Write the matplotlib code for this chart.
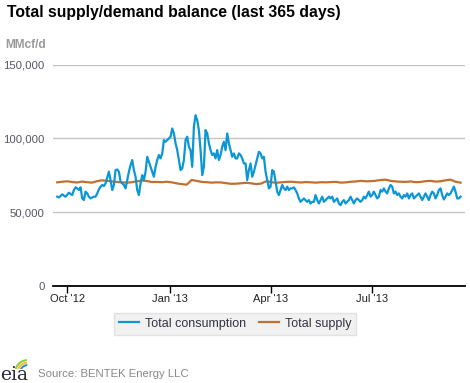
import matplotlib
matplotlib.use("Agg")
import matplotlib.pyplot as plt
from matplotlib.patches import Arc
import numpy as np
import pandas as pd

# Данные (тыс. MMcf/d)
start_date = "2012-09-22"
end_date = "2013-09-18"

consumption_k = [
    60.5, 60.0, 60.9, 62.1, 61.2, 60.5, 61.8, 63.2, 62.3, 61.6, 65.0, 66.8, 66.1, 65.0, 66.8,
    59.3, 58.2, 63.9, 62.7, 60.5, 59.3, 60.0, 60.5, 60.5, 62.7, 65.5, 67.3, 68.4, 67.7, 69.5,
    73.5, 77.4, 71.7, 65.0, 68.4, 78.5, 78.9, 77.4,
    70.6, 69.5, 68.4, 66.1, 71.7, 77.4, 81.9, 85.3, 78.5, 74.0, 65.0, 61.6, 69.5, 75.1, 71.7,
    77.4, 87.5, 84.1, 80.7, 77.4, 74.0, 80.7, 85.3, 88.7, 86.4, 89.8, 98.8, 97.7, 98.8, 100.0,
    101.1, 106.7, 103.3, 96.6, 92.0, 85.3, 78.5, 79.6, 85.3, 98.8, 101.1, 94.3,
    92.0, 80.7, 107.8, 115.7, 112.3, 105.6, 92.0, 75.1, 80.7, 105.6, 103.3, 96.6, 92.0, 88.7,
    89.8, 86.4, 92.0, 85.3, 88.7, 94.3, 97.7, 92.0, 103.3, 96.6, 92.0, 87.5, 89.8, 86.4, 86.4,
    89.8, 88.7, 86.4, 83.0, 83.0, 71.7, 78.5, 83.0, 74.0, 77.4, 81.9, 86.4, 90.9,
    89.8, 86.4, 87.5, 77.4, 71.7, 66.1, 67.3, 78.5, 77.4, 70.6, 63.9, 61.6, 65.0, 68.4, 66.1,
    65.0, 67.3, 65.0, 66.1, 66.1, 66.8, 65.0, 62.7, 59.3, 57.0, 58.2, 59.3, 58.2, 57.0, 58.2,
    55.9, 57.0, 57.0, 61.6, 58.2, 55.9, 58.2, 60.5, 57.0, 58.2, 59.3, 60.5,
    59.3, 60.5, 57.0, 58.2, 59.3, 55.9, 54.8, 57.0, 58.2, 55.9, 57.0, 58.2, 60.5, 58.2, 55.9,
    58.2, 59.3, 58.2, 57.0, 58.2, 60.5, 59.3, 61.6, 63.9, 60.5, 61.6, 63.9, 61.6, 59.3, 60.5,
    65.0, 63.9, 66.1, 63.9, 62.7, 66.1, 68.4, 67.3, 62.7, 63.9, 61.6, 62.7,
    60.5, 59.3, 61.6, 60.5, 62.7, 59.3, 61.6, 62.7, 59.3, 60.5, 61.6, 62.7, 60.5, 58.2, 60.5,
    62.7, 60.5, 58.2, 61.6, 63.9, 62.7, 59.3, 61.6, 65.0, 66.1, 61.6, 58.6, 60.5, 62.7, 61.6,
    62.7, 65.0, 67.3, 63.9, 59.3, 59.3, 60.5,
]

supply_k = [
    70.2, 70.6, 70.9, 70.4, 70.1, 70.7, 70.3, 70.0,
    71.0, 71.6, 71.2, 70.8,
    70.4, 70.2, 70.0, 70.3,
    70.9, 71.4, 71.1,
    70.4, 70.5, 70.3, 70.6, 70.2,
    69.5, 69.0, 68.6,
    71.8, 71.2,
    70.5, 70.3, 70.0, 70.2, 70.1,
    69.6, 69.2, 69.3, 69.6,
    69.9, 69.5, 69.0, 69.4,
    71.0, 70.3,
    69.9, 70.2, 70.5, 70.6, 70.3,
    70.1, 70.4, 70.2, 70.0, 70.3, 70.2,
    70.4, 70.5, 70.0, 70.2, 70.6, 70.8,
    71.2, 70.9, 71.0, 71.3, 71.8, 72.0, 71.2, 70.8,
    70.6, 70.5, 70.8, 70.3, 70.5, 71.0, 71.2, 70.7, 70.9, 71.6, 72.0, 70.6, 70.0,
]

tick_dates = ["2012-10-01", "2013-01-01", "2013-04-01", "2013-07-01"]
tick_labels = ["Oct '12", "Jan '13", "Apr '13", "Jul '13"]
y_ticks = [0, 50000, 100000, 150000]

cons_dates = pd.date_range(start_date, end_date, periods=len(consumption_k))
supp_dates = pd.date_range(start_date, end_date, periods=len(supply_k))
consumption = np.array(consumption_k) * 1000
supply = np.array(supply_k) * 1000

plt.rcParams['font.family'] = ['Liberation Sans', 'DejaVu Sans']

fig = plt.figure(figsize=(4.7, 3.83), dpi=100)
ax = fig.add_axes([53 / 470, 1 - 286 / 383, 412 / 470, (286 - 64.5) / 383])

blue = '#0b97d6'
orange = '#c0712f'
ax.plot(cons_dates, consumption, color=blue, lw=1.6, label='Total consumption', zorder=3)
ax.plot(supp_dates, supply, color=orange, lw=1.6, label='Total supply', zorder=2)

ax.set_ylim(0, 150000)
ax.set_xlim(pd.Timestamp("2012-09-18 05:00"), pd.Timestamp("2013-09-22"))
ax.set_yticks(y_ticks)
ax.set_yticklabels([f"{v:,}" for v in y_ticks], color='#555566', fontsize=8.2)
ax.set_xticks(pd.to_datetime(tick_dates))
ax.set_xticklabels(tick_labels, color='#222222', fontsize=8)
ax.tick_params(axis='y', length=0, pad=6)
ax.tick_params(axis='x', length=5, width=1, color='black', pad=0.5, direction='out')

ax.grid(axis='y', color='#c4c4c4', lw=1)
ax.set_axisbelow(True)
for s in ['top', 'right', 'left']:
    ax.spines[s].set_visible(False)
ax.spines['bottom'].set_color('black')
ax.spines['bottom'].set_linewidth(1.3)

# Заголовок и единицы
fig.text(7 / 470, 1 - 12 / 383, "Total supply/demand balance (last 365 days)",
         fontsize=11.3, fontweight='bold', color='black', va='center', ha='left')
fig.text(5 / 470, 1 - 45 / 383, "MMcf/d", fontsize=8.6, fontweight='bold',
         color='#9a9a9a', va='center', ha='left')

# Легенда
leg = fig.legend(loc='center', bbox_to_anchor=(235 / 470, 1 - 323.5 / 383), ncol=2,
                 frameon=True, fontsize=9, handlelength=1.6, handletextpad=0.5,
                 columnspacing=1.0, borderpad=0.4, borderaxespad=0.2, fancybox=False)
leg.get_frame().set_facecolor('#eeeeee')
leg.get_frame().set_edgecolor('#dddddd')
for t in leg.get_texts():
    t.set_color('#333344')

# Источник и логотип eia
fig.text(38 / 470, 1 - 374 / 383, "Source: BENTEK Energy LLC", fontsize=8.2,
         color='#888888', va='center', ha='left')
fig.text(0 / 470, 1 - 375 / 383, "eia", fontsize=13.5, family='DejaVu Serif',
         color='#2a2a3a', va='center', ha='left')
lax = fig.add_axes([0, 1 - 369 / 383, 30 / 470, 12 / 383])
lax.set_xlim(0, 30)
lax.set_ylim(0, 12)
lax.axis('off')
for r, c in [(13, '#8dc63f'), (10.5, '#f3c316'), (8, '#2a8fd0')]:
    lax.add_patch(Arc((28, -4), 2 * r, 2 * r, theta1=95, theta2=175, color=c, lw=1.4))

plt.savefig("out.png", dpi=100)
